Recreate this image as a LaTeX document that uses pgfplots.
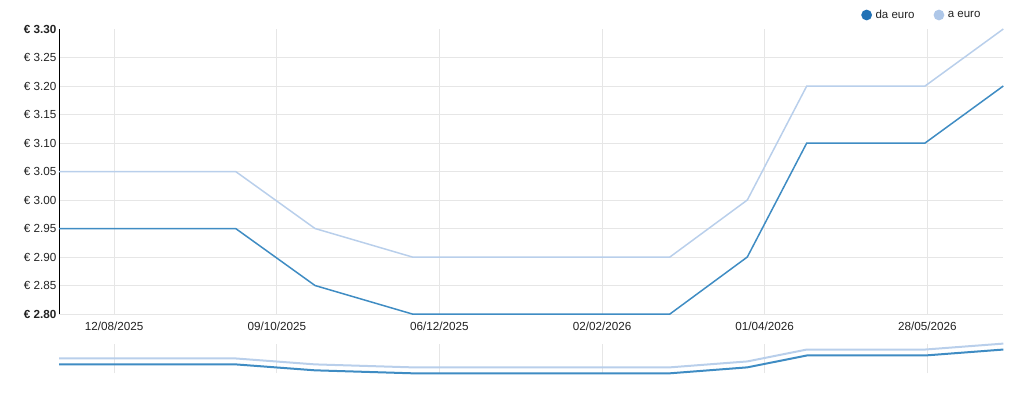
\documentclass[border=0pt]{standalone}
\usepackage{fontspec}
\setmainfont{Liberation Sans}
\usepackage{pgfplots}
\pgfplotsset{compat=1.18}
\definecolor{dline}{HTML}{3F8CC3}
\definecolor{lline}{HTML}{B9CFEB}
\definecolor{dleg}{HTML}{2171B5}
\definecolor{lleg}{HTML}{AEC7E8}
\definecolor{gridc}{HTML}{E6E6E6}
\definecolor{txt}{HTML}{222222}
\begin{document}
\begin{tikzpicture}
\path[use as bounding box] (0,0) rectangle (1024bp,393bp);
\begin{axis}[
  at={(59bp,79bp)}, anchor=south west,
  scale only axis, width=944.3bp, height=285bp,
  xmin=-19.7, xmax=317.1, ymin=2.80, ymax=3.30,
  clip=false,
  axis lines*=left,
  x axis line style={draw=none},
  y axis line style={draw=black, line width=1bp},
  major tick length=0pt,
  xtick={0,58,116,174,232,290},
  xticklabels={12/08/2025,09/10/2025,06/12/2025,02/02/2026,01/04/2026,28/05/2026},
  ytick={2.80,2.85,2.90,2.95,3.00,3.05,3.10,3.15,3.20,3.25},
  yticklabels={\textbf{€ 2.80},€ 2.85,€ 2.90,€ 2.95,€ 3.00,€ 3.05,€ 3.10,€ 3.15,€ 3.20,€ 3.25},
  extra y ticks={3.30},
  extra y tick labels={\textbf{€ 3.30}},
  extra y tick style={grid=none},
  grid=major,
  grid style={draw=gridc, line width=1bp},
  tick label style={font=\fontsize{11.7bp}{14bp}\selectfont, text=txt},
  xticklabel style={yshift=-4.5bp},
  yticklabel style={xshift=1bp},
  legend image code/.code={\path[#1, draw=none] (0bp,0bp) circle (5.4bp);},
  legend columns=2,
  legend style={at={(0.9758,1.0491)}, anchor=east, draw=none, fill=none,
    inner sep=0pt, outer sep=0pt,
    font=\fontsize{11.5bp}{14bp}\selectfont, text=txt,
    nodes={inner sep=0pt},
    /tikz/every odd column/.append style={column sep=3.5bp},
    /tikz/every even column/.append style={column sep=19bp}},
]
\addlegendimage{fill=dleg, draw=none}
\addlegendentry{da euro}
\addlegendimage{fill=lleg, draw=none}
\addlegendentry{a euro}
\addplot[forget plot, color=lline, line width=1.5bp] coordinates {
  (-19.7,3.05) (43.3,3.05) (71.6,2.95) (106.3,2.90) (198.2,2.90)
  (225.8,3.00) (247.0,3.20) (289.2,3.20) (317.1,3.30)};
\addplot[forget plot, color=dline, line width=1.5bp] coordinates {
  (-19.7,2.95) (43.3,2.95) (71.6,2.85) (106.3,2.80) (198.2,2.80)
  (225.8,2.90) (247.0,3.10) (289.2,3.10) (317.1,3.20)};
\end{axis}
\begin{axis}[
  at={(59bp,19.7bp)}, anchor=south west,
  scale only axis, width=944.3bp, height=29.7bp,
  xmin=-19.7, xmax=317.1, ymin=2.80, ymax=3.30,
  clip=false,
  axis line style={draw=none},
  major tick length=0pt,
  xtick={0,58,116,174,232,290},
  xticklabels={},
  ytick=\empty,
  xmajorgrids=true,
  grid style={draw=gridc, line width=1bp},
]
\addplot[color=lline, line width=2bp] coordinates {
  (-19.7,3.05) (43.3,3.05) (71.6,2.95) (106.3,2.90) (198.2,2.90)
  (225.8,3.00) (247.0,3.20) (289.2,3.20) (317.1,3.30)};
\addplot[color=dline, line width=2bp] coordinates {
  (-19.7,2.95) (43.3,2.95) (71.6,2.85) (106.3,2.80) (198.2,2.80)
  (225.8,2.90) (247.0,3.10) (289.2,3.10) (317.1,3.20)};
\end{axis}
\end{tikzpicture}
\end{document}
